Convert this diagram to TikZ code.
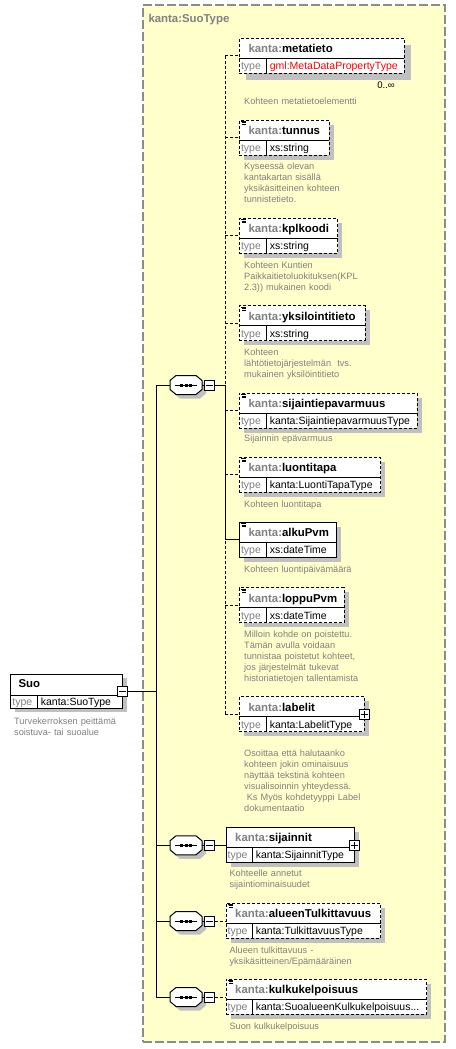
\documentclass[tikz,border=0pt]{standalone}
\usepackage{fontspec}
\setmainfont{Liberation Sans}
\usetikzlibrary{calc}
\definecolor{bgyel}{HTML}{FFFFCC}
\definecolor{shad}{HTML}{C0C0C0}
\definecolor{txtgray}{HTML}{808080}
\definecolor{framec}{HTML}{8C8C8C}
\newcommand\descf{\fontsize{9.2pt}{11pt}\selectfont\color{txtgray}}
\tikzset{
  optline/.style={line width=1pt, dash pattern=on 3pt off 2pt},
  reqline/.style={line width=1pt},
  hdrfont/.style={font=\fontsize{11.4}{13}\selectfont\bfseries, inner sep=0pt, anchor=base west},
  typefont/.style={font=\fontsize{10.5}{12}\selectfont, inner sep=0pt, anchor=base west},
  descfont/.style={font=\descf, text=txtgray, text width=210pt, align=left, inner sep=0pt, anchor=north west},
}
% #1 id, #2 left, #3 top, #4 right, #5 column offset, #6 local name, #7 type, #8 border style, #9 shadow offset
\newcommand\xelem[9]{%
  \fill[shad] (#2+#9,#3+#9) rectangle (#4+#9,#3+35+#9);
  \node[#8, draw, fill=white, inner sep=0pt, outer sep=0pt, anchor=north west,
        minimum width={(#4)-(#2)}, minimum height=35pt] (#1) at (#2,#3) {};
  \draw[line width=1pt] (#2,#3+20) -- (#4,#3+20);
  \draw[line width=1pt] (#2+#5,#3+20) -- (#2+#5,#3+35);
  \node[hdrfont] (#1-name) at (#2+9,#3+14.5) {\textcolor{txtgray}{kanta:}#6};
  \node[typefont, text=txtgray] (#1-tl) at (#2+1.5,#3+31.5) {type};
  \node[typefont] (#1-ty) at (#2+#5+3,#3+31.5) {#7};
}
\newcommand\eqicon[1]{%
  \draw[line width=0.8pt] ($(#1.north west)+(1.5,1.2)$) -- ++(5.5,0);
  \draw[line width=0.8pt] ($(#1.north west)+(2.5,2.7)$) -- ++(4.5,0);
  \draw[line width=0.8pt] ($(#1.north west)+(2.5,4.2)$) -- ++(4.5,0);
}
\newcommand\minusbox[3]{%
  \node[draw, line width=1pt, fill=white, minimum size=10pt, inner sep=0pt] (#1) at (#2,#3) {};
  \draw[line width=1pt] ($(#1.center)+(-3.5,0)$) -- ($(#1.center)+(3.5,0)$);
}
\newcommand\plusbox[3]{%
  \node[draw, line width=1pt, fill=white, minimum size=10pt, inner sep=0pt] (#1) at (#2,#3) {};
  \draw[line width=1pt] ($(#1.center)+(-3.5,0)$) -- ($(#1.center)+(3.5,0)$);
  \draw[line width=1pt] ($(#1.center)+(0,-3.5)$) -- ($(#1.center)+(0,3.5)$);
}
% #1 id, #2 center y
\newcommand\seqnode[2]{%
  \fill[shad] (180,#2-5.5) -- (200,#2-5.5) -- (206,#2-0.5) -- (206,#2+8.5) -- (200,#2+13.5) -- (180,#2+13.5) -- (174,#2+8.5) -- (174,#2-0.5) -- cycle;
  \node[inner sep=0pt, outer sep=0pt, minimum width=32pt, minimum height=19pt] (#1) at (186,#2) {};
  \draw[line width=1pt, fill=white] (176,#2-9.5) -- (196,#2-9.5) -- (202,#2-4.5) -- (202,#2+4.5) -- (196,#2+9.5) -- (176,#2+9.5) -- (170,#2+4.5) -- (170,#2-4.5) -- cycle;
  \draw[line width=1pt] (175,#2) -- (197,#2);
  \fill (180,#2-1.5) rectangle ++(3,3);
  \fill (184.5,#2-1.5) rectangle ++(3,3);
  \fill (189,#2-1.5) rectangle ++(3,3);
  \minusbox{#1-m}{209.3}{#2}
  \draw[line width=1pt] (202,#2) -- (#1-m.west);
}
\begin{document}
\begin{tikzpicture}[x=1pt,y=-1pt]
\useasboundingbox (0,0) rectangle (455,1049);
\fill[white] (0,0) rectangle (455,1049);
% container
\node[draw=framec, fill=bgyel, line width=1.5pt, dash pattern=on 9pt off 3pt, anchor=north west,
      minimum width=302pt, minimum height=1037pt, inner sep=0pt, outer sep=0pt] (cont) at (143,5) {};
\node[hdrfont, text=txtgray] (conttitle) at (148.3,23) {kanta:SuoType};

% root element
\fill[shad] (14.7,678) rectangle (126.7,712.3);
\node[draw, line width=1pt, fill=white, anchor=north west, inner sep=0pt, outer sep=0pt,
      minimum width=112pt, minimum height=34.3pt] (suo) at (10.7,674) {};
\draw[line width=1pt] (10.7,695) -- (122.7,695);
\draw[line width=1pt] (37.7,695) -- (37.7,708.3);
\node[hdrfont] (suo-name) at (18.3,687.5) {Suo};
\node[typefont, text=txtgray] (suo-tl) at (12.2,705.3) {type};
\node[typefont] (suo-ty) at (40.7,705.3) {kanta:SuoType};
\minusbox{suo-m}{122.7}{691.7}
\node[descfont] (suo-d) at (14,717.3) {\descf Turvekerroksen peittämä\\soistuva- tai suoalue};

% sequences
\seqnode{seq1}{385}
\seqnode{seq2}{845.3}
\seqnode{seq3}{921}
\seqnode{seq4}{997}

% group 1 elements
\xelem{metatieto}{239.3}{38.3}{404}{27.4}{metatieto}{\textcolor{red}{gml:MetaDataPropertyType}}{optline}{7}
\xelem{tunnus}{239.3}{120}{329}{27.4}{tunnus}{xs:string}{optline}{4.5}
\eqicon{tunnus}
\xelem{kplkoodi}{239.3}{218.3}{337.7}{27.4}{kplkoodi}{xs:string}{optline}{4.5}
\eqicon{kplkoodi}
\xelem{yksilo}{239.3}{305.7}{365}{27.4}{yksilointitieto}{xs:string}{optline}{4.5}
\eqicon{yksilo}
\xelem{sijepa}{239.3}{393.3}{417.3}{27.4}{sijaintiepavarmuus}{kanta:SijaintiepavarmuusType}{optline}{4.5}
\eqicon{sijepa}
\xelem{luontitapa}{239.3}{457.3}{380.7}{27.4}{luontitapa}{kanta:LuontiTapaType}{optline}{4.5}
\eqicon{luontitapa}
\xelem{alkupvm}{239.3}{522.3}{336.7}{27.4}{alkuPvm}{xs:dateTime}{reqline}{4.5}
\eqicon{alkupvm}
\xelem{loppupvm}{239.3}{587.7}{344.3}{27.4}{loppuPvm}{xs:dateTime}{optline}{4.5}
\eqicon{loppupvm}
\xelem{labelit}{239.3}{696.7}{364}{27.4}{labelit}{kanta:LabelitType}{optline}{4.5}
\plusbox{labelit-p}{364}{714.7}

\node[font=\fontsize{9.6pt}{11pt}\selectfont, inner sep=0pt, anchor=base east] (meta-mult) at (395,88.3) {0..∞};

% group 1 descriptions
\node[descfont] (metatieto-d) at (244,97.3) {\descf Kohteen metatietoelementti};
\node[descfont] (tunnus-d) at (244,163) {\descf Kyseessä olevan\\kantakartan sisällä\\yksikäsitteinen kohteen\\tunnistetieto.};
\node[descfont] (kplkoodi-d) at (244,261.3) {\descf Kohteen Kuntien\\Paikkaitietoluokituksen(KPL\\2.3)) mukainen koodi};
\node[descfont] (yksilo-d) at (244,348.3) {\descf Kohteen\\lähtötietojärjestelmän\ \ tvs.\\mukainen yksilöintitieto};
\node[descfont] (sijepa-d) at (244,435) {\descf Sijainnin epävarmuus};
\node[descfont] (luontitapa-d) at (244,500.6) {\descf Kohteen luontitapa};
\node[descfont] (alkupvm-d) at (244,565.6) {\descf Kohteen luontipäivämäärä};
\node[descfont] (loppupvm-d) at (244,630.6) {\descf Milloin kohde on poistettu.\\Tämän avulla voidaan\\tunnistaa poistetut kohteet,\\jos järjestelmät tukevat\\historiatietojen tallentamista};
\node[descfont] (labelit-d) at (244,749.6) {\descf Osoittaa että halutaanko\\kohteen jokin ominaisuus\\näyttää tekstinä kohteen\\visualisoinnin yhteydessä.\\\hspace*{2.6pt}Ks Myös kohdetyyppi Label\\dokumentaatio};

% group 2 elements
\xelem{sijainnit}{226}{827.3}{354.3}{26.7}{sijainnit}{kanta:SijainnitType}{reqline}{4.5}
\plusbox{sijainnit-p}{354.3}{845.3}
\xelem{alueen}{226}{903}{380.7}{26.7}{alueenTulkittavuus}{kanta:TulkittavuusType}{optline}{4.5}
\eqicon{alueen}
\xelem{kulku}{226}{979}{426.7}{26.7}{kulkukelpoisuus}{kanta:SuoalueenKulkukelpoisuus...}{optline}{4.5}
\eqicon{kulku}
\node[descfont] (sijainnit-d) at (229.3,870) {\descf Kohteelle annetut\\sijaintiominaisuudet};
\node[descfont] (alueen-d) at (229.3,946.6) {\descf Alueen tulkittavuus -\\yksikäsitteinen/Epämääräinen};
\node[descfont] (kulku-d) at (229.3,1022.3) {\descf Suon kulkukelpoisuus};

% connectors
\coordinate (spx) at (225,0);
\coordinate (lx) at (156,0);
\draw[optline] (spx |- metatieto.west) -- (spx |- labelit.west);
\draw[reqline] (seq1-m.east) -- (spx |- seq1-m.east) -- (spx |- alkupvm.west);
\foreach \e in {metatieto,tunnus,kplkoodi,yksilo,sijepa,luontitapa,loppupvm,labelit}
  \draw[optline] (spx |- \e.west) -- (\e.west);
\draw[reqline] (spx |- alkupvm.west) -- (alkupvm.west);

\draw[reqline] (suo-m.east) -- (lx |- suo-m.east);
\draw[reqline] (lx |- seq1.west) -- (lx |- seq4.west);
\foreach \s in {seq1,seq2,seq3,seq4}
  \draw[reqline] (lx |- \s.west) -- (\s.west);
\draw[reqline] (seq2-m.east) -- (seq2-m.east -| sijainnit.west);
\draw[optline] (seq3-m.east) -- (seq3-m.east -| alueen.west);
\draw[optline] (seq4-m.east) -- (seq4-m.east -| kulku.west);
\end{tikzpicture}
\end{document}
